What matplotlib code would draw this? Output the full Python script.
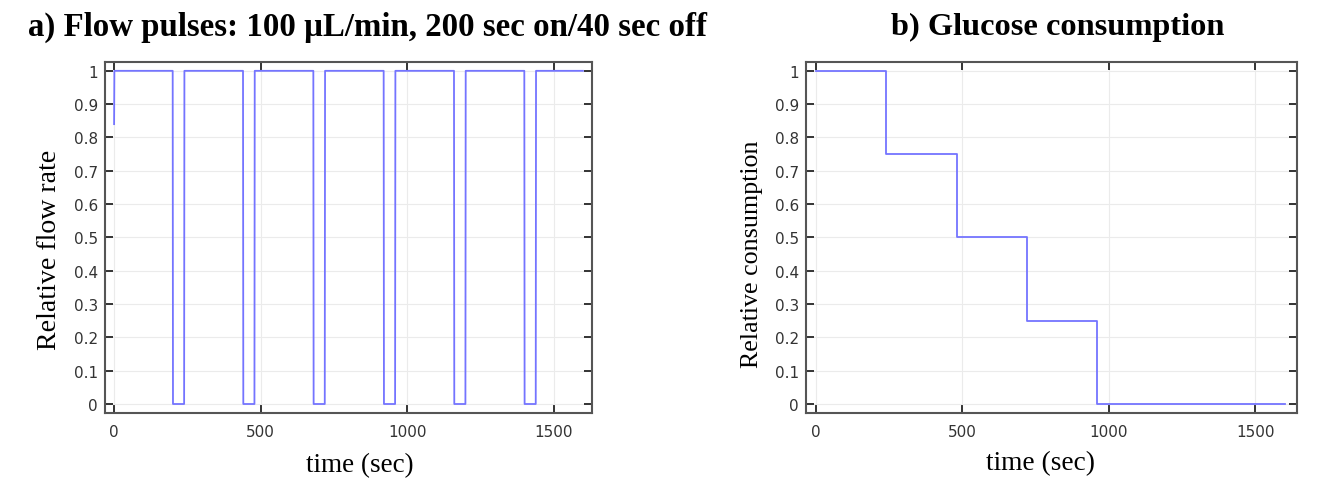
import matplotlib
matplotlib.use("Agg")
import matplotlib.pyplot as plt

# ---- data ----
flow_time = [0, 1, 200, 201, 239, 240, 440, 441, 479, 480, 680, 681, 719, 720,
             920, 921, 959, 960, 1160, 1161, 1199, 1200, 1400, 1401, 1439, 1440, 1600]
flow_value = [0.84, 1, 1, 0, 0, 1, 1, 0, 0, 1, 1, 0, 0, 1,
              1, 0, 0, 1, 1, 0, 0, 1, 1, 0, 0, 1, 1]

cons_time = [0, 240, 240, 480, 480, 720, 720, 960, 960, 1600]
cons_value = [1, 1, 0.75, 0.75, 0.5, 0.5, 0.25, 0.25, 0, 0]

x_ticks = [0, 500, 1000, 1500]
y_ticks = [0, 0.1, 0.2, 0.3, 0.4, 0.5, 0.6, 0.7, 0.8, 0.9, 1]
y_tick_labels = ["0", "0.1", "0.2", "0.3", "0.4", "0.5", "0.6", "0.7", "0.8", "0.9", "1"]

title_a = "a) Flow pulses: 100 µL/min, 200 sec on/40 sec off"
title_b = "b) Glucose consumption"
ylabel_a = "Relative flow rate"
ylabel_b = "Relative consumption"
xlabel = "time (sec)"

# ---- figure ----
W, H = 1329, 485
fig = plt.figure(figsize=(W / 100, H / 100), dpi=100)

line_color = "#7474ff"
spine_color = "#555555"
serif = ["Liberation Serif", "DejaVu Serif"]


def px_axes(left, right, top, bottom):
    return fig.add_axes([left / W, 1 - bottom / H, (right - left) / W, (bottom - top) / H])


ax_a = px_axes(105, 592, 62.5, 414)
ax_b = px_axes(806, 1297, 62.5, 414)

ax_a.plot(flow_time, flow_value, color=line_color, lw=1.3)
ax_b.plot(cons_time, cons_value, color=line_color, lw=1.3)

ax_a.set_xlim(-31, 1631)
ax_b.set_xlim(-34, 1642)

for ax in (ax_a, ax_b):
    ax.set_ylim(-0.027, 1.028)
    ax.set_xticks(x_ticks)
    ax.set_yticks(y_ticks)
    ax.set_yticklabels(y_tick_labels)
    ax.grid(True, color="#ebebeb", lw=0.8)
    ax.set_axisbelow(True)
    ax.tick_params(direction="in", length=5.5, width=1.4, color="#333333",
                   top=True, right=True, labelsize=11, labelcolor="#333333")
    ax.tick_params(axis="x", pad=8)
    ax.tick_params(axis="y", pad=5)
    for s in ax.spines.values():
        s.set_color(spine_color)
        s.set_linewidth(1.5)

fig.canvas.draw()
renderer = fig.canvas.get_renderer()


def fitted_text(x, y, s, target, bold=False, rotation=0, shrink=1.0):
    t = fig.text(x / W, 1 - y / H, s, ha="center", va="center", family=serif,
                 fontsize=20, fontweight="bold" if bold else "normal",
                 rotation=rotation)
    bb = t.get_window_extent(renderer)
    length = bb.width if rotation == 0 else bb.height
    t.set_fontsize(20 * target / length * shrink)
    return t


fitted_text(368, 27, title_a, 713, bold=True, shrink=0.95)
fitted_text(1058, 27, title_b, 351, bold=True, shrink=0.95)
fitted_text(360, 466, xlabel, 120, shrink=0.9)
fitted_text(1040, 464, xlabel, 121, shrink=0.9)
fitted_text(50, 250, ylabel_a, 200, rotation=90, shrink=1.0)
fitted_text(752, 254, ylabel_b, 228, rotation=90, shrink=1.0)

fig.savefig("out.png", dpi=100)
